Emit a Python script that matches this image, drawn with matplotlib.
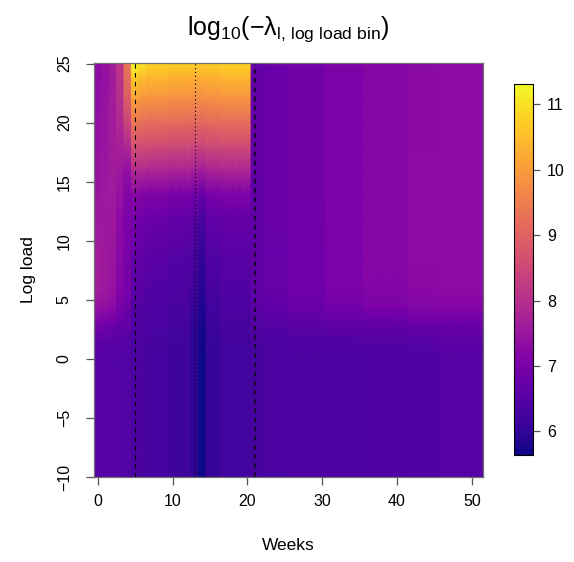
import numpy as np
import matplotlib
matplotlib.use("Agg")
import matplotlib.pyplot as plt

plt.rcParams['font.family'] = ['Liberation Sans', 'DejaVu Sans']
plt.rcParams['mathtext.fontset'] = 'custom'
plt.rcParams['mathtext.rm'] = 'Liberation Sans'
plt.rcParams['mathtext.it'] = 'Liberation Sans'

# log load levels at which each weekly column was read (bottom -> top)
loads = [-10, -5, 0, 1.5, 3, 4.5, 6, 9, 12, 14, 16, 18, 20, 22, 24, 25]

# log10(-lambda) per week, one profile per distinct column
w0 = [6.50, 6.50, 6.48, 6.55, 6.95, 7.45, 7.65, 7.62, 7.55, 7.50, 7.45, 7.42, 7.38, 7.33, 7.30, 7.30]
w1 = [6.50, 6.50, 6.48, 6.55, 6.90, 7.38, 7.55, 7.55, 7.55, 7.55, 7.52, 7.50, 7.47, 7.43, 7.40, 7.40]
w2 = [6.50, 6.50, 6.48, 6.52, 6.82, 7.28, 7.45, 7.52, 7.55, 7.60, 7.62, 7.62, 7.62, 7.62, 7.62, 7.62]
w3 = [6.47, 6.47, 6.45, 6.50, 6.72, 7.05, 7.15, 7.22, 7.30, 7.42, 7.55, 7.70, 7.88, 8.00, 8.08, 8.12]
w4 = [6.45, 6.45, 6.43, 6.48, 6.65, 6.85, 6.95, 7.00, 7.05, 7.15, 7.35, 7.85, 8.45, 8.90, 9.20, 9.35]
w5 = [6.35, 6.35, 6.35, 6.38, 6.42, 6.50, 6.60, 6.75, 6.95, 7.25, 7.95, 8.65, 9.35, 10.05, 10.80, 11.25]
w6 = [6.32, 6.32, 6.32, 6.35, 6.40, 6.45, 6.52, 6.65, 6.85, 7.15, 7.90, 8.60, 9.25, 9.90, 10.60, 11.00]
w7 = [6.28, 6.28, 6.28, 6.30, 6.33, 6.38, 6.43, 6.55, 6.75, 7.08, 7.85, 8.55, 9.20, 9.85, 10.45, 10.80]
w10 = [6.18, 6.18, 6.18, 6.21, 6.25, 6.30, 6.36, 6.48, 6.68, 7.02, 7.80, 8.50, 9.15, 9.80, 10.40, 10.75]
w13 = [5.95, 5.95, 5.95, 5.98, 6.03, 6.10, 6.18, 6.32, 6.52, 6.92, 7.72, 8.45, 9.10, 9.75, 10.35, 10.70]
w14 = [5.65, 5.65, 5.66, 5.68, 5.72, 5.80, 5.90, 6.08, 6.32, 6.75, 7.65, 8.42, 9.08, 9.75, 10.35, 10.70]
w15 = [6.07, 6.07, 6.07, 6.10, 6.15, 6.22, 6.30, 6.45, 6.65, 7.00, 7.80, 8.50, 9.15, 9.80, 10.40, 10.75]
w17 = [6.23, 6.23, 6.23, 6.26, 6.30, 6.36, 6.42, 6.53, 6.72, 7.06, 7.85, 8.55, 9.20, 9.85, 10.45, 10.80]
w21 = [6.28, 6.28, 6.28, 6.32, 6.45, 6.58, 6.63, 6.64, 6.65, 6.65, 6.66, 6.66, 6.67, 6.67, 6.67, 6.67]
w23 = [6.33, 6.33, 6.33, 6.37, 6.50, 6.66, 6.72, 6.74, 6.76, 6.77, 6.78, 6.78, 6.78, 6.78, 6.78, 6.78]
w26 = [6.35, 6.35, 6.35, 6.40, 6.55, 6.78, 6.85, 6.87, 6.88, 6.89, 6.90, 6.90, 6.90, 6.90, 6.90, 6.90]
w31 = [6.37, 6.37, 6.37, 6.42, 6.62, 6.92, 7.00, 7.03, 7.04, 7.05, 7.05, 7.05, 7.05, 7.05, 7.05, 7.05]
w36 = [6.38, 6.38, 6.38, 6.44, 6.68, 7.05, 7.15, 7.17, 7.18, 7.18, 7.18, 7.18, 7.18, 7.18, 7.18, 7.18]
w42 = [6.42, 6.42, 6.42, 6.48, 6.75, 7.15, 7.25, 7.28, 7.28, 7.28, 7.28, 7.27, 7.27, 7.27, 7.27, 7.27]
w46 = [6.50, 6.50, 6.50, 6.55, 6.80, 7.18, 7.28, 7.30, 7.30, 7.30, 7.30, 7.30, 7.30, 7.30, 7.30, 7.30]

# which profile belongs to weeks 0..51
week_cols = ([w0, w1, w2, w3, w4, w5, w6] + [w7] * 3 + [w10] * 3 + [w13, w14]
             + [w15] * 2 + [w17] * 4 + [w21] * 2 + [w23] * 3 + [w26] * 5
             + [w31] * 5 + [w36] * 6 + [w42] * 4 + [w46] * 6)
weeks = np.arange(len(week_cols))

# reference weeks
vlines = [5, 13, 21]

Z = np.array(week_cols).T
# two nodes per week so each column stays flat across its width
xnodes = np.column_stack([weeks - 0.5, weeks + 0.5]).ravel()
X, Y = np.meshgrid(xnodes, loads)
Zg = np.repeat(Z, 2, axis=1)

fig = plt.figure(figsize=(5.74, 5.62), dpi=100)
ax = fig.add_axes([0.1638, 0.1512, 0.6777, 0.7367])
mesh = ax.pcolormesh(X, Y, Zg, shading='gouraud', cmap='plasma', vmin=5.64, vmax=11.31)
ax.set_xlim(-0.5, 51.5)
ax.set_ylim(-10, 25.05)

ax.axvline(vlines[0], color='black', lw=0.8, ls=(0, (4, 4)))
ax.axvline(vlines[1], color='black', lw=0.8, ls=(0, (1, 2.5)))
ax.axvline(vlines[2], color='#1c0830', lw=1.5, ls=(0, (2.2, 2.2)))

ax.set_xticks([0, 10, 20, 30, 40, 50])
ax.set_yticks([-10, -5, 0, 5, 10, 15, 20, 25])
for s in ax.spines.values():
    s.set_color('#707070')
    s.set_linewidth(0.9)
ax.tick_params(axis='both', color='#555555', length=6, width=0.9, labelsize=11.5)
ax.tick_params(axis='x', pad=6)
ax.tick_params(axis='y', pad=10)
plt.setp(ax.get_yticklabels(), rotation=90, va='center')
ax.set_xlabel('Weeks', fontsize=12.5, labelpad=21)
ax.set_ylabel('Log load', fontsize=12.5, labelpad=15)
ax.set_title(r'$\mathrm{log}_{10}(-\lambda_{\mathrm{l,\,log\ load\ bin}})$', fontsize=18, pad=20)

cax = fig.add_axes([0.8955, 0.1904, 0.0331, 0.6601])
cb = fig.colorbar(mesh, cax=cax, ticks=[6, 7, 8, 9, 10, 11])
cb.outline.set_edgecolor('black')
cb.outline.set_linewidth(0.8)
cax.tick_params(color='#555555', length=5, width=0.9, labelsize=11.5, pad=5)

fig.savefig('out.png', dpi=100)
